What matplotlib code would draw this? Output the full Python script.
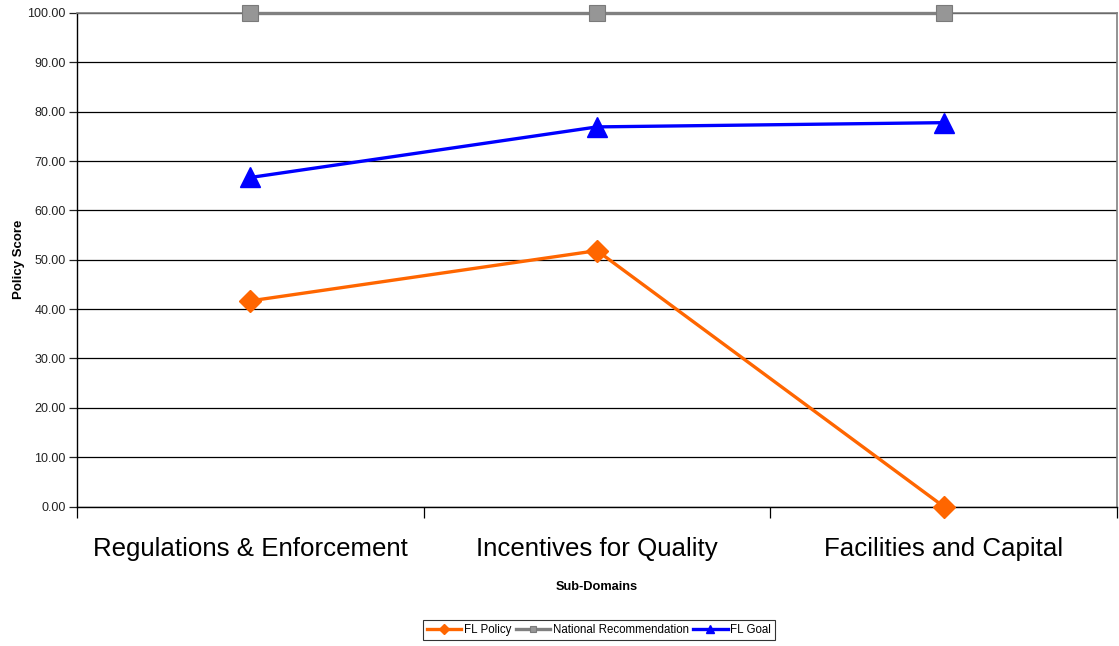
import matplotlib
matplotlib.use("Agg")
import matplotlib.pyplot as plt
from matplotlib.ticker import MultipleLocator, FormatStrFormatter

plt.rcParams['font.family'] = ['Liberation Sans', 'DejaVu Sans']

categories = ["Regulations & Enforcement", "Incentives for Quality", "Facilities and Capital"]
fl_policy = [41.67, 51.85, 0.0]
national_rec = [100.0, 100.0, 100.0]
fl_goal = [66.67, 76.92, 77.78]

fig = plt.figure(figsize=(11.19, 6.46), dpi=100)
ax = fig.add_axes([77 / 1119, 1 - 506.5 / 646, 1040 / 1119, 493.5 / 646])

x = [0.5, 1.5, 2.5]
ax.plot(x, fl_policy, color='#FF6600', lw=2.4, marker='D', ms=11,
        mec='#FF6600', label='FL Policy', clip_on=False, zorder=4)
ax.plot(x, national_rec, color='#808080', lw=2.4, marker='s', ms=11,
        mfc='#969696', mec='#7a7a7a', mew=0.8, label='National Recommendation',
        clip_on=False, zorder=5)
ax.plot(x, fl_goal, color='#0000FF', lw=2.4, marker='^', ms=14,
        mec='#0000FF', label='FL Goal', clip_on=False, zorder=4)

ax.set_xlim(0, 3)
ax.set_ylim(0, 100)
ax.yaxis.set_major_locator(MultipleLocator(10))
ax.yaxis.set_major_formatter(FormatStrFormatter('%.2f'))
ax.grid(axis='y', color='black', lw=0.9)
ax.set_axisbelow(True)

ax.set_xticks([0, 1, 2, 3])
ax.set_xticklabels([])
ax.set_xticks(x, minor=True)
ax.set_xticklabels(categories, minor=True, fontsize=18.6)
ax.tick_params(axis='x', which='minor', length=0, pad=22)
ax.tick_params(axis='x', which='major', length=8, width=0.9, direction='out')
ax.tick_params(axis='y', length=6, width=0.9, labelsize=9, pad=2, colors='#222222')

for s in ['left', 'bottom']:
    ax.spines[s].set_color('black')
    ax.spines[s].set_linewidth(1.0)
for s in ['top', 'right']:
    ax.spines[s].set_color('#808080')
    ax.spines[s].set_linewidth(1.2)

ax.set_ylabel('Policy Score', fontsize=9.5, fontweight='bold', labelpad=2)
fig.text(597 / 1119, 1 - 587 / 646, 'Sub-Domains', fontsize=9.2,
         fontweight='bold', ha='center', va='center')

leg = fig.legend(loc='center', bbox_to_anchor=(599 / 1119, 1 - 630 / 646),
                 ncol=3, fontsize=8.3, frameon=True, fancybox=False,
                 handlelength=3.0, handletextpad=0.25, columnspacing=0.35,
                 borderpad=0.35, markerscale=0.45, borderaxespad=0)
leg.get_frame().set_edgecolor('black')
leg.get_frame().set_linewidth(0.8)
for h in leg.get_lines():
    h.set_linewidth(2.4)

fig.savefig('out.png', dpi=100)
